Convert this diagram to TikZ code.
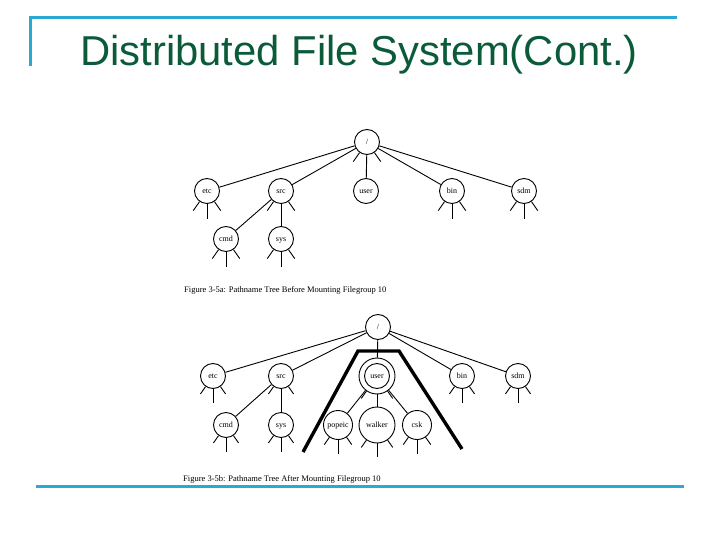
\documentclass[tikz,border=0pt]{standalone}
\usepackage{fontspec}
\setmainfont{Liberation Serif}
\newfontfamily\titlefont{Liberation Sans}
\definecolor{framecol}{HTML}{2AA9D4}
\definecolor{titlecol}{HTML}{0B5B3A}
\tikzset{
  dir/.style={circle,draw,line width=0.9pt,minimum size=25pt,inner sep=0pt,text height=5pt,text depth=0pt,font=\fontsize{8}{9}\selectfont},
  bigdir/.style={dir,minimum size=36pt},
  wdir/.style={dir,minimum size=29pt},
  capt/.style={anchor=west,inner sep=0pt,font=\fontsize{8.5}{10}\selectfont},
  frame/.style={framecol,line width=3pt},
  link/.style={line width=0.9pt},
  mount/.style={line width=3.4pt,miter limit=10}
}
\begin{document}
\begin{tikzpicture}[x=1pt,y=-1pt]
\useasboundingbox (0,0) rectangle (720,540);
\fill[white] (0,0) rectangle (720,540);
\draw[frame] (30,66) -- (30,18) -- (677,18);
\draw[frame] (36,486) -- (684,486);
\node[titlecol,font=\titlefont\fontsize{41.8}{48}\selectfont] (title) at (359,55) {Distributed File System(Cont.)};
% tree before mounting
\node[dir] (a/) at (367,142) {/};
\node[dir] (aetc) at (207,191) {etc};
\node[dir] (asrc) at (281,191) {src};
\node[dir] (auser) at (366,191) {user};
\node[dir] (abin) at (452,191) {bin};
\node[dir] (asdm) at (524,191) {sdm};
\node[dir] (acmd) at (226,239) {cmd};
\node[dir] (asys) at (281,239) {sys};
\foreach \n in {aetc,asrc,auser,abin,asdm}
  \draw[link] (a/) -- (\n);
\draw[link] (asrc) -- (acmd);
\draw[link] (asrc) -- (asys);
\foreach \n in {a/,aetc,asrc,abin,asdm,acmd,asys} {
  \draw[link] (\n.-125) -- +(-125:11pt);
  \draw[link] (\n.-55) -- +(-55:11pt);
}
\foreach \n in {aetc,abin,asdm,acmd,asys}
  \draw[link] (\n.south) -- +(0,15);
\node[capt] (acapt) at (184,290) {Figure 3-5a:  Pathname Tree Before Mounting Filegroup 10};
% tree after mounting
\node[dir] (b/) at (378,327) {/};
\node[dir] (betc) at (213,376) {etc};
\node[dir] (bsrc) at (281,376) {src};
\node[bigdir] (bouter) at (377,376) {};
\node[dir] (buser) at (377,376) {user};
\node[dir] (bbin) at (462,376) {bin};
\node[dir] (bsdm) at (518,376) {sdm};
\node[dir] (bcmd) at (226,425) {cmd};
\node[dir] (bsys) at (281,425) {sys};
\node[wdir] (bpopeic) at (338,425) {popeic};
\node[bigdir] (bwalker) at (377,425) {walker};
\node[wdir] (bcsk) at (417,425) {csk};
\foreach \n in {betc,bsrc,bouter,bbin,bsdm}
  \draw[link] (b/) -- (\n);
\draw[link] (bsrc) -- (bcmd);
\draw[link] (bsrc) -- (bsys);
\foreach \n in {bpopeic,bwalker,bcsk}
  \draw[link] (bouter) -- (\n);
\foreach \n in {betc,bsrc,bouter,bbin,bsdm,bcmd,bsys,bpopeic,bwalker,bcsk} {
  \draw[link] (\n.-125) -- +(-125:9pt);
  \draw[link] (\n.-55) -- +(-55:9pt);
}
\foreach \n in {betc,bbin,bsdm,bcmd,bsys,bpopeic,bwalker,bcsk}
  \draw[link] (\n.south) -- +(0,14);
\coordinate (m1) at (303,452);
\coordinate (m2) at (358,351);
\coordinate (m3) at (399,351);
\coordinate (m4) at (462,449);
\draw[mount] (m1) -- (m2) -- (m3) -- (m4);
\node[capt] (bcapt) at (183,479) {Figure 3-5b:  Pathname Tree After Mounting Filegroup 10};
\end{tikzpicture}
\end{document}
